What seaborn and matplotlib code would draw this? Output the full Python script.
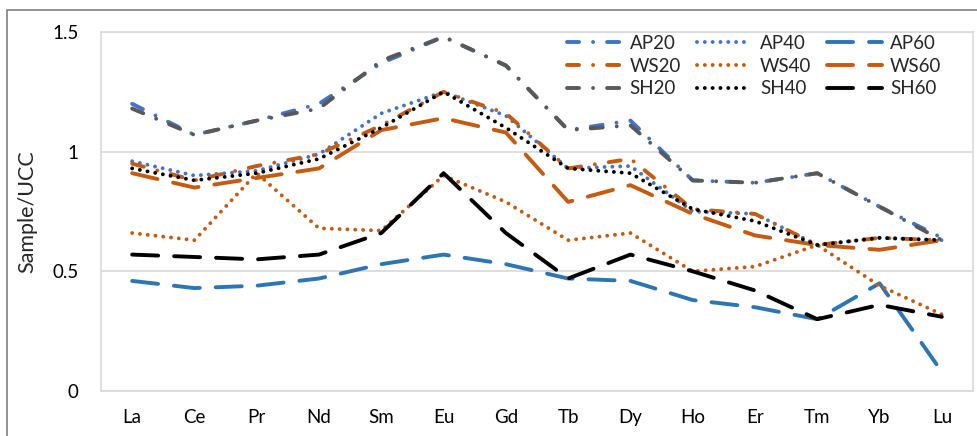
import matplotlib
matplotlib.use("Agg")
import matplotlib.pyplot as plt
from matplotlib.patches import Rectangle
import seaborn as sns
import pandas as pd

# Rare earth elements normalised to upper continental crust
elements = ["La", "Ce", "Pr", "Nd", "Sm", "Eu", "Gd", "Tb", "Dy", "Ho", "Er", "Tm", "Yb", "Lu"]

AP20 = [1.20, 1.07, 1.13, 1.20, 1.37, 1.48, 1.36, 1.09, 1.13, 0.88, 0.87, 0.91, 0.77, 0.64]
AP40 = [0.96, 0.90, 0.92, 0.99, 1.16, 1.25, 1.15, 0.93, 0.94, 0.75, 0.74, 0.61, 0.64, 0.63]
AP60 = [0.46, 0.43, 0.44, 0.47, 0.53, 0.57, 0.53, 0.47, 0.46, 0.38, 0.35, 0.30, 0.45, 0.08]
WS20 = [0.95, 0.88, 0.94, 0.99, 1.11, 1.25, 1.16, 0.93, 0.97, 0.76, 0.74, 0.61, 0.64, 0.63]
WS40 = [0.66, 0.63, 0.91, 0.68, 0.67, 0.90, 0.79, 0.63, 0.66, 0.50, 0.52, 0.61, 0.44, 0.32]
WS60 = [0.91, 0.85, 0.89, 0.93, 1.09, 1.14, 1.08, 0.79, 0.86, 0.74, 0.65, 0.61, 0.59, 0.63]
SH20 = [1.18, 1.07, 1.13, 1.18, 1.38, 1.48, 1.36, 1.09, 1.11, 0.88, 0.87, 0.91, 0.77, 0.63]
SH40 = [0.93, 0.88, 0.91, 0.97, 1.10, 1.25, 1.10, 0.93, 0.91, 0.76, 0.71, 0.61, 0.64, 0.63]
SH60 = [0.57, 0.56, 0.55, 0.57, 0.66, 0.91, 0.66, 0.47, 0.57, 0.50, 0.42, 0.30, 0.36, 0.31]

series = {
    "AP20": AP20, "AP40": AP40, "AP60": AP60,
    "WS20": WS20, "WS40": WS40, "WS60": WS60,
    "SH20": SH20, "SH40": SH40, "SH60": SH60,
}

BLUE = "#4472C4"
BLUE2 = "#2E75B6"
ORANGE = "#C55A11"
GREY = "#595959"
BLACK = "#000000"

colors = {
    "AP20": BLUE, "AP40": BLUE, "AP60": BLUE2,
    "WS20": ORANGE, "WS40": ORANGE, "WS60": ORANGE,
    "SH20": GREY, "SH40": BLACK, "SH60": BLACK,
}

# dash patterns in multiples of line width (drawn with round caps)
DASH_DOT = (3.1, 3.6, 0.01, 3.6)
DOTS = (0.01, 2.0)
LONG_DASH = (6.7, 4.1)
patterns = {
    "AP20": DASH_DOT, "WS20": DASH_DOT, "SH20": DASH_DOT,
    "AP40": DOTS, "WS40": DOTS, "SH40": DOTS,
    "AP60": LONG_DASH, "WS60": LONG_DASH, "SH60": LONG_DASH,
}

sns.set_theme(style="white")
plt.rcParams["font.family"] = ["Lato", "DejaVu Sans"]

W, H = 978, 436
fig = plt.figure(figsize=(W / 100, H / 100), dpi=100)
ax = fig.add_axes([101 / W, 1 - 391 / H, (973 - 101) / W, (391 - 32) / H])

lines = {}
for name, vals in series.items():
    df = pd.DataFrame({"element": elements, "value": vals})
    sns.lineplot(data=df, x="element", y="value", sort=False, color=colors[name],
                 linewidth=2.8, ax=ax, label=name, legend=False)
    ln = ax.lines[-1]
    ln.set_dashes(patterns[name])
    ln.set_dash_capstyle("round")
    ln.set_solid_capstyle("round")
    lines[name] = ln

ax.set_xlim(-0.5, len(elements) - 0.5)
ax.set_ylim(0, 1.5)
ax.set_yticks([0, 0.5, 1, 1.5])
ax.set_yticklabels(["0", "0.5", "1", "1.5"])
ax.yaxis.grid(True, color="#D9D9D9", linewidth=1.2)
ax.xaxis.grid(False)
for sp in ax.spines.values():
    sp.set_color("#D9D9D9")
    sp.set_linewidth(1.2)
ax.tick_params(axis="both", length=0, labelsize=13.5, colors="#000000")
ax.tick_params(axis="y", pad=16)
ax.tick_params(axis="x", pad=13)
ax.set_xlabel("")
ax.set_ylabel("Sample/UCC", fontsize=15.5, labelpad=11)

order = ["AP20", "WS20", "SH20", "AP40", "WS40", "SH40", "AP60", "WS60", "SH60"]
ax.legend([lines[n] for n in order], order, ncol=3, frameon=False,
          loc="upper left", bbox_to_anchor=(567 / W, 1 - 35 / H),
          bbox_transform=fig.transFigure, fontsize=13.5,
          handlelength=2.9, handletextpad=0.45, columnspacing=0.85,
          labelspacing=0.3, borderpad=0, borderaxespad=0)

# chart area border
fig.patches.append(Rectangle((7 / W, -0.1), 1.2, 1.1 - 10.5 / H,
                             transform=fig.transFigure, fill=False,
                             edgecolor="#7F7F7F", linewidth=1.2))

fig.savefig("out.png", dpi=100)
